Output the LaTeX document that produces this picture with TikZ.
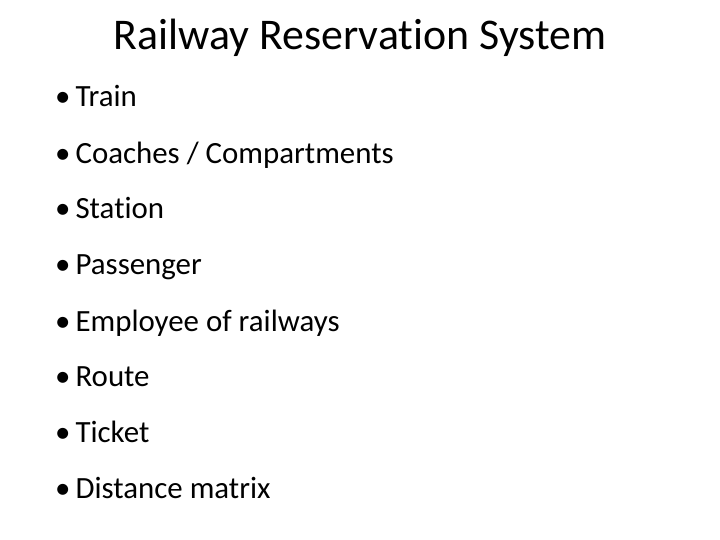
\documentclass[tikz,border=0pt]{standalone}
\usepackage{fontspec}
\setmainfont[Ligatures=NoCommon]{Carlito}
\begin{document}
\begin{tikzpicture}[x=1bp,y=-1bp,
  item/.style={anchor=base west,inner sep=0pt,font=\fontsize{31}{36}\selectfont},
  ttl/.style={anchor=base,inner sep=0pt,font=\fontsize{44}{50}\selectfont}]
\useasboundingbox[fill=white] (0,0) rectangle (720,540);
\node[ttl] (t) at (360,50) {Railway Reservation System};
\foreach \y/\s [count=\i] in {107/{Train},164/{Coaches / Compartments},219/{Station},275/{Passenger},331/{Employee of railways},386/{Route},442/{Ticket},498/{Distance matrix}}{
  \node[item] (i\i) at (55,\y) {•\hspace{5bp}\s};
}
\end{tikzpicture}
\end{document}
